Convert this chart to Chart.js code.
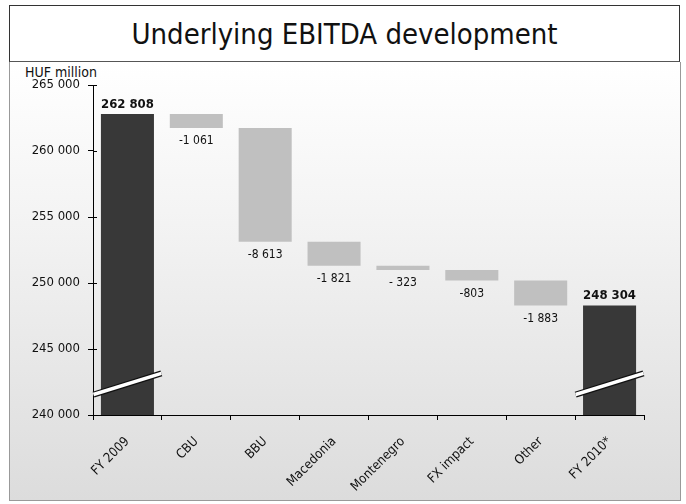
<!DOCTYPE html>
<html>
<head>
<meta charset="utf-8">
<script src="https://cdn.jsdelivr.net/npm/chart.js@4"></script>
<style>
  body { margin: 0; background: #fff; width: 686px; height: 504px; position: relative; overflow: hidden; }
  #title {
    position: absolute; left: 9px; top: 5px; width: 671px; height: 57px;
    border: 1px solid #333; border-bottom: 1px solid #555; box-sizing: border-box;
    font-family: "Liberation Sans Narrow", "DejaVu Sans Condensed", Arial, sans-serif;
    font-size: 29px; color: #111; text-align: center; line-height: 57px;
  }
  #panel {
    position: absolute; left: 9px; top: 62px; width: 672px; height: 439px;
    border: 1px solid #999; border-top: none; box-sizing: border-box;
    background: linear-gradient(#ffffff, #f2f2f2 40%, #dcdcdc);
  }
  #unit {
    position: absolute; left: 15px; top: 2px;
    font-family: "Liberation Sans Narrow", "DejaVu Sans Condensed", Arial, sans-serif;
    font-size: 14px; color: #111;
  }
  canvas { position: absolute; left: 0; top: 0; }
</style>
</head>
<body>
<div id="title">Underlying EBITDA development</div>
<div id="panel">
  <div id="unit">HUF million</div>
  <canvas id="myChart" width="670" height="438"></canvas>
</div>
<script>
const categories = ["FY 2009", "CBU", "BBU", "Macedonia", "Montenegro", "FX impact", "Other", "FY 2010*"];
const steps = [262808, -1061, -8613, -1821, -323, -803, -1883, 248304];
const isTotal = [true, false, false, false, false, false, false, true];
const deltaLabels = ["262 808", "-1 061", "-8 613", "-1 821", "- 323", "-803", "-1 883", "248 304"];
const yTicks = [240000, 245000, 250000, 255000, 260000, 265000];

const dark = "#383838";
const grey = "#c0c0c0";
const font = "'Liberation Sans Narrow', 'DejaVu Sans Condensed', Arial, sans-serif";

// floating bars for the waterfall
const ranges = [];
let running = 0;
steps.forEach((v, i) => {
  if (isTotal[i]) {
    ranges.push([yTicks[0], v]);
    running = v;
  } else {
    ranges.push([running + v, running]);
    running += v;
  }
});

const fmt = (n) => String(n).replace(/\B(?=(\d{3})+(?!\d))/g, " ");

const waterfallExtras = {
  id: "waterfallExtras",
  afterDatasetsDraw(chart) {
    const ctx = chart.ctx;
    const y = chart.scales.y;
    const meta = chart.getDatasetMeta(0);
    ctx.save();
    // value labels
    meta.data.forEach((bar, i) => {
      ctx.textAlign = "center";
      ctx.fillStyle = "#111";
      if (isTotal[i]) {
        ctx.font = "bold 13px " + font;
        ctx.textBaseline = "bottom";
        ctx.fillText(deltaLabels[i], bar.x, bar.y - 3);
      } else {
        ctx.font = "12px " + font;
        ctx.textBaseline = "top";
        ctx.fillText(deltaLabels[i], bar.x, bar.base + 7);
      }
    });
    // axis break slashes on the totals
    meta.data.forEach((bar, i) => {
      if (!isTotal[i]) return;
      const x0 = bar.x - bar.width * 0.64;
      const x1 = bar.x + bar.width * 0.64;
      const y0 = y.getPixelForValue(241550);
      const y1 = y.getPixelForValue(243150);
      ctx.lineCap = "butt";
      ctx.strokeStyle = "#111";
      ctx.lineWidth = 6;
      ctx.beginPath(); ctx.moveTo(x0, y0); ctx.lineTo(x1, y1); ctx.stroke();
      ctx.strokeStyle = "#fff";
      ctx.lineWidth = 3.5;
      ctx.beginPath(); ctx.moveTo(x0, y0); ctx.lineTo(x1, y1); ctx.stroke();
    });
    // inner half of the cross ticks on the y axis
    ctx.strokeStyle = "#000";
    ctx.lineWidth = 1;
    yTicks.forEach((t) => {
      const py = Math.round(y.getPixelForValue(t)) + 0.5;
      ctx.beginPath();
      ctx.moveTo(y.right, py);
      ctx.lineTo(y.right + 4, py);
      ctx.stroke();
    });
    ctx.restore();
  },
};

new Chart(document.getElementById("myChart"), {
  type: "bar",
  data: {
    labels: categories,
    datasets: [
      {
        data: ranges,
        backgroundColor: isTotal.map((t) => (t ? dark : grey)),
        borderWidth: 0,
        borderSkipped: false,
        categoryPercentage: 1,
        barPercentage: 0.77,
      },
    ],
  },
  options: {
    responsive: false,
    animation: false,
    layout: { padding: { top: 23, right: 36, left: 0, bottom: 0 } },
    plugins: {
      legend: { display: false },
      tooltip: { enabled: false },
    },
    scales: {
      x: {
        grid: { drawOnChartArea: false, tickLength: 5, color: "#000", offset: true },
        border: { color: "#000" },
        ticks: {
          autoSkip: false,
          maxRotation: 45,
          minRotation: 45,
          color: "#111",
          font: { family: font, size: 13 },
          padding: 14,
        },
        afterFit: (scale) => { scale.height = 85; },
      },
      y: {
        min: 240000,
        max: 265000,
        afterBuildTicks: (scale) => { scale.ticks = yTicks.map((v) => ({ value: v })); },
        grid: { drawOnChartArea: false, tickLength: 5, color: "#000" },
        border: { color: "#000" },
        ticks: {
          color: "#111",
          font: { family: font, size: 13 },
          padding: 8,
          callback: (v) => fmt(v),
        },
        afterFit: (scale) => { scale.width = 83; },
      },
    },
  },
  plugins: [waterfallExtras],
});
</script>
</body>
</html>
